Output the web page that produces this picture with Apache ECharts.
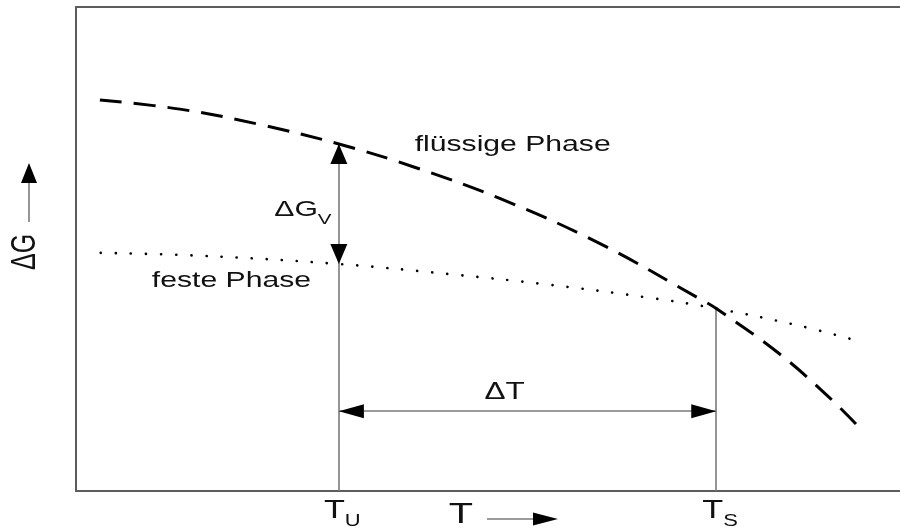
<!DOCTYPE html>
<html>
<head>
<meta charset="utf-8">
<script src="https://cdn.jsdelivr.net/npm/echarts@6/dist/echarts.min.js"></script>
<style>
  html, body { margin: 0; padding: 0; background: #fff; }
  #chart { width: 900px; height: 529px; }
</style>
</head>
<body>
<div id="chart"></div>
<script>
// Free enthalpy G of the liquid and the solid phase over temperature T (arbitrary units)
const tLiquid = [2.9, 12.6, 22.1, 31.9, 40.9, 51.5, 63.6, 75.7, 77.7, 85.4, 91.5, 94.9];
const gLiquid = [80.8, 78.9, 75.8, 71.7, 67.0, 60.4, 51.1, 39.7, 37.7, 28.3, 19.2, 13.4];
const tSolid = [3.0, 15.1, 31.9, 45.4, 57.5, 69.7, 77.7, 87.9, 95.3];
const gSolid = [49.2, 48.6, 46.9, 44.8, 42.6, 39.9, 37.7, 34.1, 30.8];

// Undercooling temperature T_U and solidification temperature T_S
const tU = 31.9;
const tS = 77.7;
const tickSubscripts = ['U', 'S'];
const phaseNames = ['flüssige Phase', 'feste Phase'];
// height of the ΔT dimension arrow
const deltaTLevel = 16.5;

const gLiqU = gLiquid[tLiquid.indexOf(tU)];
const gSolU = gSolid[tSolid.indexOf(tU)];
const gS = gLiquid[tLiquid.indexOf(tS)];

const FONT = '"Liberation Sans", Arial, Helvetica, sans-serif';
const SX = 1.37;          // horizontal stretch of the lettering
const AXIS_COLOR = '#5c5c5c';
const GUIDE_COLOR = '#7a7a7a';
const INK = '#111';

const zip = (xs, ys) => xs.map((x, i) => [x, ys[i]]);

const chart = echarts.init(document.getElementById('chart'));

const hiddenAxis = { show: false };
const option = {
  animation: false,
  backgroundColor: '#fff',
  grid: { left: 76, right: 0, top: 7, bottom: 38 },
  xAxis: [
    {
      type: 'value', min: 0, max: 100, position: 'bottom',
      axisLine: { show: true, lineStyle: { color: AXIS_COLOR, width: 2 } },
      axisTick: hiddenAxis, axisLabel: hiddenAxis, splitLine: hiddenAxis
    },
    {
      type: 'value', min: 0, max: 100, position: 'top',
      axisLine: { show: true, lineStyle: { color: AXIS_COLOR, width: 2 } },
      axisTick: hiddenAxis, axisLabel: hiddenAxis, splitLine: hiddenAxis
    }
  ],
  yAxis: {
    type: 'value', min: 0, max: 100,
    axisLine: { show: true, onZero: false, lineStyle: { color: AXIS_COLOR, width: 2 } },
    axisTick: hiddenAxis, axisLabel: hiddenAxis, splitLine: hiddenAxis
  },
  series: [
    {
      name: 'flüssige Phase',
      type: 'line',
      data: zip(tLiquid, gLiquid),
      smooth: 0.4,
      symbol: 'none',
      silent: true,
      z: 5,
      lineStyle: { color: '#000', width: 3, type: [22, 12] }
    },
    {
      name: 'feste Phase',
      type: 'line',
      data: zip(tSolid, gSolid),
      smooth: 0.4,
      symbol: 'none',
      silent: true,
      z: 5,
      lineStyle: { color: '#000', width: 2.6, type: [0.1, 15], cap: 'round' }
    },
    // thin guide lines at T_U, T_S and the ΔT dimension line
    {
      type: 'line', data: [], silent: true, z: 3,
      markLine: {
        silent: true, animation: false, symbol: 'none',
        label: { show: false },
        lineStyle: { color: GUIDE_COLOR, width: 1.6, type: 'solid' },
        data: [
          [{ coord: [tU, 0] }, { coord: [tU, gLiqU] }],
          [{ coord: [tS, 0] }, { coord: [tS, gS] }],
          [{ coord: [tU, deltaTLevel] }, { coord: [tS, deltaTLevel] }]
        ]
      }
    }
  ]
};
chart.setOption(option);

// ---- lettering, arrow heads and axis arrows ----
const px = (t, g) => chart.convertToPixel({ gridIndex: 0 }, [t, g]);

function text(str, size, align) {
  return {
    type: 'text',
    style: {
      text: str, x: 0, y: 0, fill: INK,
      font: size + 'px ' + FONT,
      align: align, verticalAlign: 'middle'
    }
  };
}

// symbol with a subscript; (x, y) is where main text and index meet
function subscripted(x, y, main, sub, size, subSize, dropY) {
  const a = text(main, size, 'right');
  const b = text(sub, subSize, 'left');
  b.style.y = dropY;
  return { type: 'group', x: x, y: y, scaleX: SX, children: [a, b] };
}

function plain(x, y, str, size, align) {
  return { type: 'group', x: x, y: y, scaleX: SX, children: [text(str, size, align)] };
}

// filled arrow head with its tip at `tip`, pointing along (dx, dy)
function head(tip, dx, dy, len, width) {
  const bx = tip[0] - dx * len, by = tip[1] - dy * len;
  const nx = -dy * width / 2, ny = dx * width / 2;
  return {
    type: 'polygon', z: 10,
    shape: { points: [[tip[0], tip[1]], [bx + nx, by + ny], [bx - nx, by - ny]] },
    style: { fill: '#000' }
  };
}

const pU = px(tU, 0);
const pS = px(tS, 0);
const pLiqU = px(tU, gLiqU);
const pSolU = px(tU, gSolU);
const pDT = px(tU, deltaTLevel);
const pDT2 = px(tS, deltaTLevel);
const pFl = px(41.1, 71.5);
const pFe = px(9.2, 43.4);

const graphic = [
  // ΔG_V arrow heads and label
  head(pLiqU, 0, -1, 20, 17),
  head(pSolU, 0, 1, 20, 17),
  subscripted(pLiqU[0] - 21, (pLiqU[1] + pSolU[1]) / 2 + 6, 'ΔG', 'V', 22, 15, 10),
  // ΔT arrow heads and label
  head(pDT, -1, 0, 25, 14),
  head(pDT2, 1, 0, 25, 14),
  plain((pDT[0] + pDT2[0]) / 2 - 23, pDT[1] - 18, 'ΔT', 23, 'center'),
  // phase names
  plain(pFl[0], pFl[1], phaseNames[0], 22, 'left'),
  plain(pFe[0], pFe[1], phaseNames[1], 22, 'left'),
  // temperature ticks T_U and T_S
  subscripted(pU[0] + 6, pU[1] + 20, 'T', tickSubscripts[0], 25, 16, 11),
  subscripted(pS[0] + 7, pS[1] + 20, 'T', tickSubscripts[1], 25, 16, 11),
  // T axis name with arrow
  plain(461, 515, 'T', 29, 'center'),
  {
    type: 'line', shape: { x1: 487, y1: 519, x2: 540, y2: 519 },
    style: { stroke: GUIDE_COLOR, lineWidth: 1.6 }
  },
  head([558, 519], 1, 0, 25, 13),
  // ΔG axis name with arrow
  {
    type: 'text', x: 26, y: 252, rotation: Math.PI / 2, scaleY: SX,
    style: {
      text: 'ΔG', x: 0, y: 0, fill: INK, font: '25px ' + FONT,
      align: 'center', verticalAlign: 'middle'
    }
  },
  {
    type: 'line', shape: { x1: 29, y1: 222, x2: 29, y2: 180 },
    style: { stroke: GUIDE_COLOR, lineWidth: 1.6 }
  },
  head([29, 163], 0, -1, 20, 16)
];
chart.setOption({ graphic: graphic });
</script>
</body>
</html>
